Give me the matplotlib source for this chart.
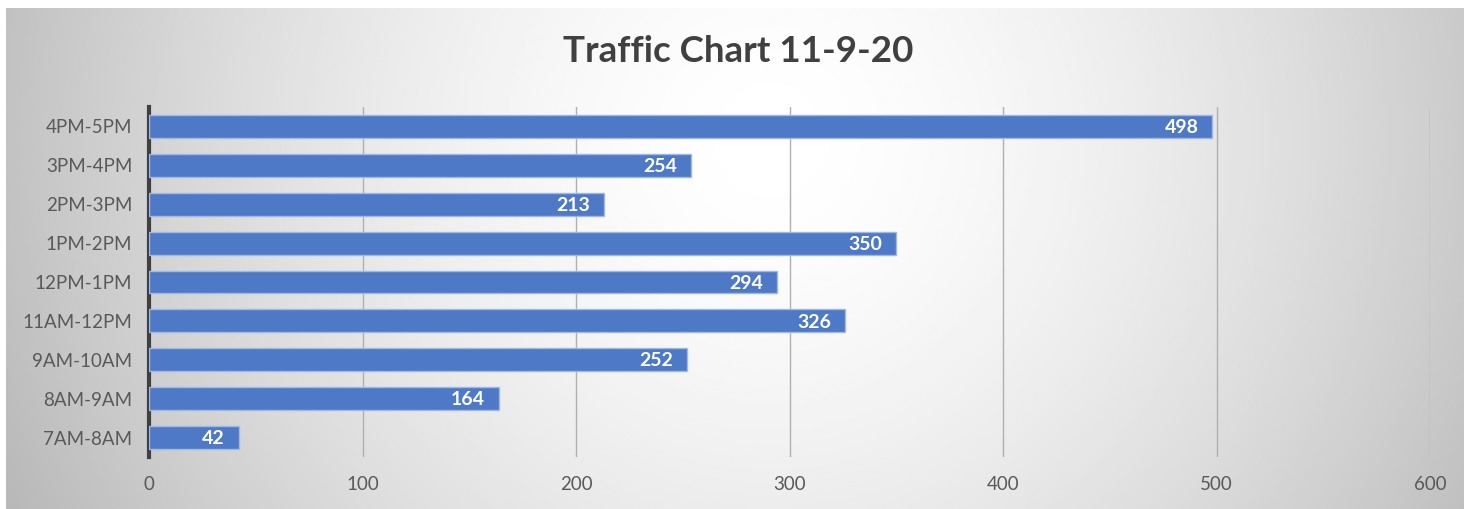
import numpy as np
import matplotlib.pyplot as plt

# hourly traffic counts, bottom to top
slots = ["7AM-8AM", "8AM-9AM", "9AM-10AM", "11AM-12PM", "12PM-1PM",
         "1PM-2PM", "2PM-3PM", "3PM-4PM", "4PM-5PM"]
counts = [42, 164, 252, 326, 294, 350, 213, 254, 498]
x_ticks = [0, 100, 200, 300, 400, 500, 600]
title = "Traffic Chart 11-9-20"

plt.rcParams['font.family'] = ['Lato', 'DejaVu Sans']

W, H = 1464, 509
fig = plt.figure(figsize=(W / 100, H / 100), dpi=100)

# radial grey background behind the chart area (pixel units)
x0, top = 6, 8
bg = fig.add_axes([x0 / W, 0, 1 - x0 / W, 1 - top / H], zorder=-10)
px, py = np.meshgrid(np.linspace(x0, W, 500), np.linspace(H, top, 200))
d = np.hypot(px - 770, py - 140)
shade = 1.0 - 0.24 * np.clip(d / 770, 0, 1.1) ** 1.6
bg.imshow(shade, cmap="gray", vmin=0, vmax=1, aspect="auto",
          origin="lower", extent=[0, 1, 0, 1], interpolation="bilinear")
bg.set_axis_off()

ax = fig.add_axes([149 / W, 52 / H, (1430 - 149) / W, (457 - 107) / H])
ax.patch.set_alpha(0)

y = np.arange(len(slots))
bars = ax.barh(y, counts, height=0.59, color="#4D79C6",
               edgecolor="#A3B8E0", linewidth=1.0, zorder=3)

for rect, v in zip(bars, counts):
    ax.text(v - 6.5, rect.get_y() + rect.get_height() / 2 - 0.03, str(v),
            ha="right", va="center", color="white", fontsize=14,
            fontweight="bold", zorder=4)

ax.set_xlim(0, 600)
ax.set_ylim(-0.5, len(slots) - 0.5)
ax.set_xticks(x_ticks)
ax.set_yticks(y)
ax.set_yticklabels(slots)
ax.tick_params(axis="both", length=0, labelsize=13.5, colors="#595959")
ax.tick_params(axis="x", pad=14)
ax.tick_params(axis="y", pad=12)

ax.xaxis.grid(True, color="#b0b0b0", linewidth=1.0, zorder=0)
ax.set_axisbelow(True)
for side in ["top", "right", "bottom"]:
    ax.spines[side].set_visible(False)
ax.spines["left"].set_color("#404040")
ax.spines["left"].set_linewidth(3)

fig.text(738 / W, 1 - 52 / H, title, ha="center", va="center",
         fontsize=26.5, fontweight="bold", color="#404040")

fig.savefig("out.png", dpi=100)
